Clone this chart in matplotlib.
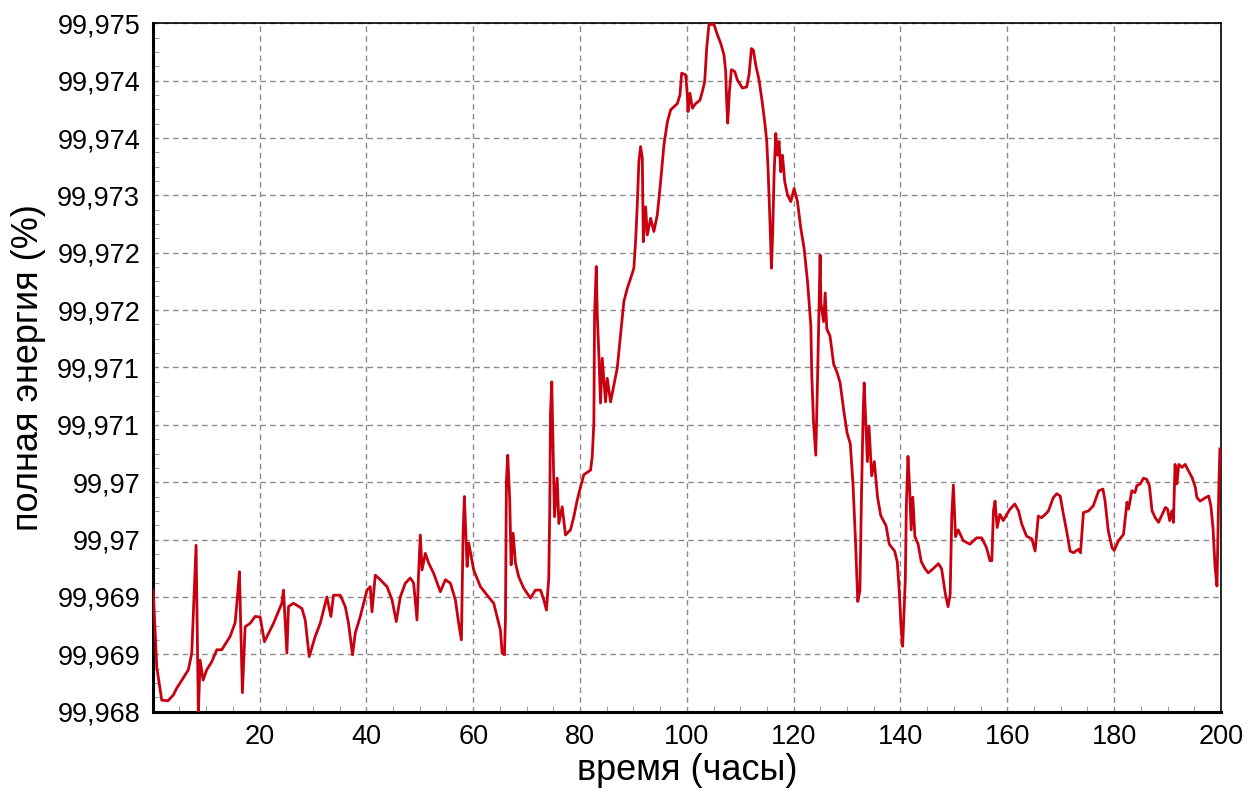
import matplotlib
matplotlib.use('Agg')
import matplotlib.pyplot as plt
from matplotlib.ticker import MultipleLocator, AutoMinorLocator, FuncFormatter

# time (hours) and total energy (%)
hours = [
    0.1, 0.75, 1.69, 2.87, 3.86, 4.5, 5.74, 6.67, 7.31, 7.61, 8.12, 8.55, 8.87, 9.43,
    10.12, 11.06, 12.0, 12.93, 14.49, 15.43, 15.86, 16.23, 16.79, 17.3, 18.24, 19.17,
    20.11, 20.92, 22.61, 24.18, 24.48, 25.12, 25.42, 26.35, 27.93, 28.55, 29.3, 30.42,
    31.36, 32.61, 33.36, 33.85, 35.11, 36.05, 36.66, 37.41, 37.92, 38.86, 40.11, 40.73,
    41.05, 41.67, 42.61, 43.86, 44.8, 45.6, 46.35, 47.29, 48.23, 48.85, 49.48, 49.78,
    50.1, 50.42, 51.04, 51.66, 52.6, 53.85, 54.79, 55.73, 56.66, 57.28, 57.79, 58.11,
    58.35, 58.86, 59.16, 60.09, 61.35, 62.6, 63.84, 65.1, 65.42, 65.85, 66.04, 66.22,
    66.47, 66.84, 67.1, 67.48, 67.91, 68.53, 69.47, 70.72, 71.66, 72.6, 73.21, 73.72,
    74.15, 74.34, 74.47, 74.71, 74.98, 75.22, 75.73, 76.03, 76.66, 77.28, 78.22, 78.84,
    79.48, 80.1, 80.71, 81.97, 82.29, 82.59, 82.72, 83.04, 83.23, 83.53, 83.84, 84.16,
    84.78, 85.1, 85.72, 86.34, 86.97, 87.59, 88.21, 88.85, 89.47, 90.08, 90.4, 90.72,
    91.02, 91.34, 91.66, 91.85, 92.28, 92.6, 93.22, 93.83, 94.47, 95.09, 95.71, 96.35,
    96.97, 98.22, 98.71, 99.03, 99.78, 100.09, 100.21, 100.58, 101.03, 101.65, 102.46,
    102.9, 103.34, 103.71, 104.14, 105.08, 105.72, 106.34, 106.95, 107.27, 107.46,
    107.65, 107.97, 108.34, 108.96, 109.47, 110.4, 111.21, 111.64, 112.09, 112.46,
    112.9, 113.52, 114.15, 114.64, 114.96, 115.2, 115.52, 115.84, 116.08, 116.33,
    116.65, 116.96, 117.26, 117.58, 117.9, 118.33, 118.84, 119.46, 120.08, 120.71,
    121.33, 121.95, 122.59, 123.21, 123.39, 123.71, 124.14, 124.46, 124.76, 124.95,
    125.1, 125.6, 125.9, 126.2, 126.8, 127.5, 128.1, 128.7, 129.4, 130.0, 130.6,
    131.1, 131.6, 132.0, 132.4, 132.7, 133.0, 133.2, 133.5, 133.8, 134.1, 134.6,
    135.1, 135.7, 136.3, 137.3, 137.9, 138.9, 139.4, 139.8, 140.1, 140.4, 140.9,
    141.1, 141.4, 141.7, 142.0, 142.3, 142.7, 143.3, 143.9, 144.6, 145.2, 146.1,
    147.1, 147.7, 148.4, 148.9, 149.3, 149.6, 149.9, 150.3, 150.8, 151.75, 153.0,
    154.25, 155.2, 156.1, 156.75, 157.1, 157.4, 157.7, 158.1, 158.6, 159.25, 159.9,
    160.5, 161.4, 162.1, 162.7, 163.6, 164.6, 165.2, 165.8, 166.4, 167.1, 167.7,
    168.6, 169.25, 169.9, 170.5, 171.1, 171.75, 172.4, 173.3, 173.7, 174.25, 175.2,
    176.1, 177.1, 177.9, 178.3, 178.9, 179.6, 180.0, 180.8, 181.75, 182.4, 182.7,
    183.3, 183.9, 184.25, 184.9, 185.5, 186.1, 186.6, 187.1, 187.7, 188.3, 189.0,
    189.6, 190.0, 190.4, 190.8, 191.1, 191.4, 191.75, 192.1, 192.7, 193.3, 193.9,
    194.6, 195.2, 195.5, 196.1, 197.1, 197.7, 198.1, 198.5, 198.9, 199.25, 199.6, 199.8,
]
energy = [
    99.969216, 99.968479, 99.968160, 99.968155, 99.968210, 99.968276, 99.968375,
    99.968452, 99.968611, 99.968996, 99.969645, 99.968030, 99.968545, 99.968353,
    99.968452, 99.968529, 99.968644, 99.968644, 99.968771, 99.968903, 99.969150,
    99.969392, 99.968232, 99.968864, 99.968897, 99.968963, 99.968958, 99.968721,
    99.968897, 99.969090, 99.969216, 99.968611, 99.969057, 99.969090, 99.969040,
    99.968930, 99.968578, 99.968771, 99.968897, 99.969150, 99.968963, 99.969167,
    99.969167, 99.969057, 99.968897, 99.968595, 99.968804, 99.968963, 99.969216,
    99.969249, 99.969007, 99.969359, 99.969315, 99.969249, 99.969123, 99.968914,
    99.969150, 99.969282, 99.969332, 99.969282, 99.968930, 99.969376, 99.969744,
    99.969409, 99.969568, 99.969475, 99.969376, 99.969200, 99.969315, 99.969282,
    99.969123, 99.968897, 99.968738, 99.969761, 99.970113, 99.969442, 99.969667,
    99.969409, 99.969249, 99.969167, 99.969090, 99.968831, 99.968611, 99.968595,
    99.968947, 99.970272, 99.970509, 99.970080, 99.969458, 99.969761, 99.969475,
    99.969343, 99.969233, 99.969139, 99.969216, 99.969216, 99.969123, 99.969024,
    99.969332, 99.970030, 99.970910, 99.971213, 99.970525, 99.969920, 99.970289,
    99.969854, 99.970014, 99.969744, 99.969794, 99.969920, 99.970080, 99.970206,
    99.970322, 99.970366, 99.970498, 99.970817, 99.971840, 99.972318, 99.971856,
    99.971471, 99.971009, 99.971438, 99.971020, 99.971246, 99.971020, 99.971180,
    99.971345, 99.971664, 99.971983, 99.972109, 99.972203, 99.972302, 99.972555,
    99.972907, 99.973325, 99.973468, 99.973358, 99.972555, 99.972890, 99.972621,
    99.972780, 99.972654, 99.972813, 99.973132, 99.973484, 99.973704, 99.973820,
    99.973880, 99.973963, 99.974172, 99.974155, 99.973963, 99.973803, 99.973979,
    99.973836, 99.973880, 99.973913, 99.973996, 99.974089, 99.974408, 99.974639,
    99.974639, 99.974540, 99.974458, 99.974348, 99.974188, 99.973897, 99.973693,
    99.973996, 99.974205, 99.974188, 99.974106, 99.974029, 99.974040, 99.974155,
    99.974408, 99.974392, 99.974249, 99.974106, 99.973880, 99.973677, 99.973517,
    99.973259, 99.972813, 99.972302, 99.972654, 99.973198, 99.973594, 99.973385,
    99.973517, 99.973226, 99.973385, 99.973132, 99.973006, 99.972940, 99.973066,
    99.972940, 99.972687, 99.972494, 99.972175, 99.971757, 99.971279, 99.970828,
    99.970509, 99.971213, 99.971950, 99.972428, 99.971961, 99.971790, 99.972065,
    99.971719, 99.971653, 99.971378, 99.971306, 99.971202, 99.970927, 99.970723,
    99.970619, 99.970239, 99.969656, 99.969106, 99.969211, 99.970140, 99.970894,
    99.971202, 99.970828, 99.970448, 99.970789, 99.970311, 99.970448, 99.970107,
    99.969931, 99.969832, 99.969656, 99.969590, 99.969486, 99.969178, 99.968870,
    99.968677, 99.969315, 99.970036, 99.970498, 99.970206, 99.969794, 99.970107,
    99.969728, 99.969656, 99.969486, 99.969420, 99.969381, 99.969420, 99.969469,
    99.969420, 99.969178, 99.969057, 99.969178, 99.969931, 99.970223, 99.969728,
    99.969794, 99.969689, 99.969656, 99.969717, 99.969717, 99.969623, 99.969497,
    99.969497, 99.969975, 99.970069, 99.969816, 99.969942, 99.969882, 99.969942,
    99.969992, 99.970041, 99.969975, 99.969849, 99.969733, 99.969706, 99.969590,
    99.969926, 99.969909, 99.969942, 99.969975, 99.970102, 99.970140, 99.970118,
    99.969942, 99.969783, 99.969590, 99.969574, 99.969607, 99.969574, 99.969959,
    99.969975, 99.970025, 99.970168, 99.970184, 99.970069, 99.969783, 99.969623,
    99.969596, 99.969689, 99.969750, 99.970058, 99.969992, 99.970168, 99.970151,
    99.970217, 99.970234, 99.970289, 99.970278, 99.970217, 99.969975, 99.969909,
    99.969865, 99.969942, 99.970008, 99.969992, 99.969882, 99.969975, 99.969865,
    99.970421, 99.970234, 99.970421, 99.970393, 99.970421, 99.970360, 99.970294,
    99.970201, 99.970102, 99.970069, 99.970102, 99.970118, 99.970025, 99.969816,
    99.969431, 99.969255, 99.970201, 99.970569,
]

x_ticks = list(range(20, 201, 20))
y_start, y_step = 99.96805, 0.00055
y_ticks = [y_start + i * y_step for i in range(13)]

plt.rcParams['font.family'] = ['Liberation Sans', 'DejaVu Sans']

fig = plt.figure(figsize=(12.59, 7.95), dpi=100)
ax = fig.add_axes([0.1213, 0.1048, 0.8485, 0.8659])

ax.plot(hours, energy, color='#c8000f', lw=2.0, zorder=3)

ax.set_xlim(0, 200)
ax.set_ylim(y_ticks[0], y_ticks[-1])
ax.set_xticks(x_ticks)
ax.set_yticks(y_ticks)
ax.xaxis.set_minor_locator(MultipleLocator(5))
ax.yaxis.set_minor_locator(AutoMinorLocator(4))
ax.yaxis.set_major_formatter(
    FuncFormatter(lambda v, p: f'{v:.3f}'.rstrip('0').replace('.', ',')))

ax.grid(True, which='major', color='#8a8a8a', ls=(0, (4, 3)), lw=1)
ax.tick_params(which='both', direction='in', labelsize=19.5, colors='black')
ax.tick_params(which='major', length=0, pad=9)
ax.tick_params(which='minor', length=4, color='#8a8a8a')

for side in ['top', 'right']:
    ax.spines[side].set_linewidth(1.2)
for side in ['left', 'bottom']:
    ax.spines[side].set_linewidth(2.2)

ax.set_xlabel('время (часы)', fontsize=26, labelpad=2)
ax.set_ylabel('полная энергия (%)', fontsize=26, labelpad=8)

fig.savefig('out.png', dpi=100)
